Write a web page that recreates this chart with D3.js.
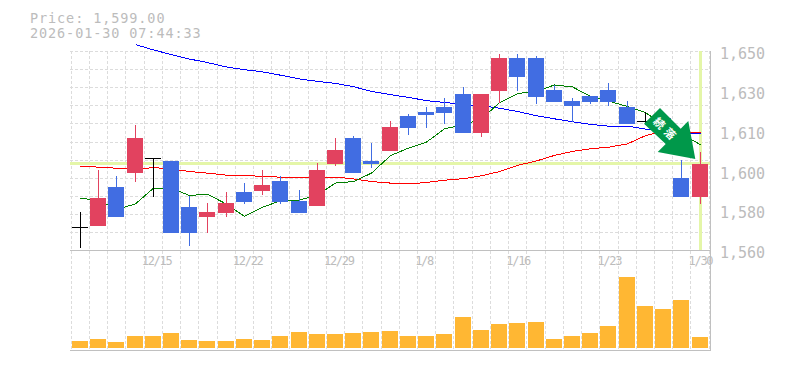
<!DOCTYPE html>
<html>
<head>
<meta charset="utf-8">
<script src="https://cdn.jsdelivr.net/npm/d3@7"></script>
<style>
  html, body { margin: 0; background: #fff; }
  svg { display: block; }
  text { font-family: "DejaVu Sans Mono", monospace; fill: #bcbcbc; }
</style>
</head>
<body>
<svg id="chart" width="785" height="370"></svg>
<script>
var titleLines = ['Price: 1,599.00', '2026-01-30 07:44:33']
var signalLabel = '続落'

var opens  = [1570.4,1570.8,1588.5,1594.8,1601.6,1600.2,1579.4,1574.9,1576.7,1586.2,1586.7,1591.2,1582.2,1579.9,1598.9,1610.6,1600.2,1604.8,1620.6,1622.4,1624.7,1630.6,1612.9,1631.9,1646.8,1646.8,1632.4,1627.4,1629.6,1632.4,1624.7,1618.3,1619.7,1592.6,1584]
var highs  = [1577.2,1596.2,1593.5,1616.5,1601.6,1600.2,1584.4,1581.3,1586.2,1590.3,1596.2,1593.5,1587.1,1599.3,1610.6,1611.6,1608.4,1618.3,1621.5,1624.7,1628.7,1633.7,1630.6,1648.6,1648.6,1647.7,1634.6,1628.7,1629.6,1635.5,1627.4,1622.4,1619.7,1600.7,1604.3]
var lows   = [1560.9,1570.8,1574.9,1590.7,1584,1567.7,1561.8,1567.7,1574.9,1580.8,1584.9,1580.8,1576.7,1579.9,1598,1594.8,1597.1,1604.8,1612,1615.2,1617,1612.9,1611.1,1626.5,1631.9,1626,1626.9,1617.9,1626,1625.1,1617,1616.5,1613.4,1584,1580.8]
var closes = [1570.4,1583.5,1574.9,1610.6,1601.6,1567.7,1567.7,1577.2,1581.3,1581.7,1589.4,1581.7,1576.7,1596.2,1605.2,1594.8,1598.9,1615.6,1615.2,1621.1,1622,1612.9,1630.6,1646.8,1638.2,1629.2,1626.9,1625.1,1626.9,1626.9,1617,1618.3,1613.4,1584,1599]
var volumes = [7,9,6,12,12,15,8,7,7,9,8,12,16,14,14,15,16,17,12,12,14,31,18,24,25,26,9,12,15,22,71,42,39,48,11]

var maShort = [1583.4,1582.4,1578.3,1580.8,1587.9,1587.9,1584.6,1585.2,1580.7,1575.2,1579.3,1582.2,1582.5,1584.9,1590.2,1590.9,1594.7,1602.6,1606,1608.7,1614.7,1616.5,1619.2,1626.5,1630.6,1631.6,1634.5,1633.6,1629.3,1627.2,1624.8,1622,1616.5,1612.5,1607.5]
var maMid = [1597.9,1597.4,1596.9,1596.5,1597.2,1596.6,1595.4,1594.7,1593.8,1593.8,1593.1,1592.9,1592.9,1592.9,1592.9,1592.1,1590.9,1590.2,1589.8,1590.5,1591.5,1592.2,1593.5,1595.4,1598.2,1600.2,1602.7,1604.5,1605.7,1606.4,1607.9,1611.6,1613.8,1613.4,1612.9]
var maLong = [null,null,null,1652.7,1650.3,1648.2,1646.2,1644.6,1642.6,1641.4,1640.4,1638.9,1637.2,1636.1,1635.2,1633.7,1631.6,1630.1,1628.9,1627.4,1626.6,1625.7,1625.1,1624,1622.5,1620.6,1619.2,1617.9,1616.7,1615.9,1615.9,1614.6,1613.8,1612.9,1612.5]

// axis labels get rounded to tens, the ticks themselves are every 18
var priceTicks = [1650,1632,1614,1596,1578,1560]
var dateLabels = {4: '12/15', 9: '12/22', 14: '12/29', 19: '1/8', 24: '1/16', 29: '1/23', 34: '1/30'}
var lastPrice = 1599

var red = '#e2425f', blue = '#416de2', grid = '#dcdcdc', frame = '#c0c0c0', hilite = '#e4f6a8'

var svg = d3.select('#chart')
var c = {left: 70.7, right: 708.7, top: 50.6, bottom: 250, volTop: 277, volBottom: 348, frameRight: 710, frameBottom: 350}

var idx = d3.range(opens.length)
var x = d3.scaleBand().domain(idx).range([c.left, c.right]).paddingInner(0)
var y = d3.scaleLinear().domain([1560, 1650]).range([c.bottom, c.top])
var yVol = d3.scaleLinear().domain([0, d3.max(volumes)]).range([c.volBottom, c.volTop])
var cx = i => Math.round(x(i) + x.bandwidth()/2) + .5
var py = v => Math.round(y(v))

// grid
var gridG = svg.append('g').attr('stroke', grid).attr('stroke-dasharray', '3 2').attr('shape-rendering', 'crispEdges')
gridG.selectAll('line.v').data(idx.concat(35)).join('line').attr('class', 'v')
  .attr('x1', i => Math.round(c.left + i*x.bandwidth()) + .5)
  .attr('x2', i => Math.round(c.left + i*x.bandwidth()) + .5)
  .attr('y1', 51).attr('y2', c.frameBottom)
gridG.selectAll('line.h').data(d3.range(11)).join('line').attr('class', 'h')
  .attr('x1', 70).attr('x2', c.frameRight)
  .attr('y1', i => Math.round(51 + i*18.1) + .5)
  .attr('y2', i => Math.round(51 + i*18.1) + .5)

// frame
var frameG = svg.append('g').attr('stroke', frame).attr('shape-rendering', 'crispEdges')
frameG.append('line').attr('x1', 70).attr('x2', 710.5).attr('y1', 250.5).attr('y2', 250.5)
frameG.append('line').attr('x1', 70).attr('x2', 710.5).attr('y1', 350.5).attr('y2', 350.5)
frameG.append('line').attr('x1', 710.5).attr('x2', 710.5).attr('y1', 51).attr('y2', 351)

// current price / date highlight
svg.append('rect').attr('x', 70).attr('width', 640).attr('y', py(lastPrice) - 2).attr('height', 3).attr('fill', hilite)
svg.append('rect').attr('x', cx(34) - 1.5).attr('width', 3).attr('y', 51).attr('height', 199).attr('fill', hilite)

// moving averages
var line = d3.line().defined(d => d != null).x((d, i) => cx(i)).y(d => y(d))
;[[maLong, '#0000ff'], [maMid, '#ff0000'], [maShort, '#007f00']].forEach(([vals, col]) => {
  svg.append('path').datum(vals).attr('d', line)
    .attr('fill', 'none').attr('stroke', col).attr('stroke-width', 1)
    .attr('shape-rendering', 'crispEdges')
})

// candles
var colorOf = i => closes[i] > opens[i] ? red : closes[i] < opens[i] ? blue : '#000'
var candles = svg.append('g').attr('shape-rendering', 'crispEdges')
  .selectAll('g').data(idx).join('g')
candles.append('line')
  .attr('x1', cx).attr('x2', cx)
  .attr('y1', i => py(highs[i])).attr('y2', i => py(lows[i]))
  .attr('stroke', colorOf)
candles.append('rect')
  .attr('x', i => cx(i) - 8.5).attr('width', 16)
  .attr('y', i => py(Math.max(opens[i], closes[i])))
  .attr('height', i => Math.max(1, py(Math.min(opens[i], closes[i])) - py(Math.max(opens[i], closes[i]))))
  .attr('fill', colorOf)

// volume
svg.append('g').attr('shape-rendering', 'crispEdges')
  .selectAll('rect').data(idx).join('rect')
  .attr('x', i => cx(i) - 8.5).attr('width', 16)
  .attr('y', i => yVol(volumes[i]))
  .attr('height', i => c.volBottom - yVol(volumes[i]))
  .attr('fill', '#ffb733')

// signal arrow
var arrow = svg.append('g')
arrow.append('path')
  .attr('d', 'M660,108 L680.7,128.7 L688.3,121 L695.3,159 L657.7,152 L665.7,144 L644,123.7 Z')
  .attr('fill', '#00984a')
arrow.append('text').text(signalLabel)
  .attr('transform', 'translate(666,130) rotate(45)')
  .attr('text-anchor', 'middle').attr('dy', '.36em')
  .style('font-family', '"Noto Sans CJK JP"').style('font-weight', 700).style('font-size', '11px')
  .style('letter-spacing', '4px')
  .style('fill', '#fff')

// axes
var yAxis = svg.append('g').attr('transform', 'translate(720,3)')
  .call(d3.axisRight(y).tickValues(priceTicks).tickSize(0).tickPadding(0)
    .tickFormat(d => d3.format(',')(Math.round(d/10)*10)))
yAxis.select('.domain').remove()
yAxis.selectAll('text').style('font-size', '15px').style('font-family', '"DejaVu Sans Mono"').attr('fill', null)

var xAxis = svg.append('g').attr('transform', 'translate(0,256)')
  .call(d3.axisBottom(x).tickValues(Object.keys(dateLabels).map(Number)).tickSize(0).tickPadding(0)
    .tickFormat(d => dateLabels[d]))
xAxis.select('.domain').remove()
xAxis.selectAll('text').attr('text-anchor', 'start').attr('dx', -11)
  .style('font-size', '12px').style('letter-spacing', '-1.3px').style('font-family', '"DejaVu Sans Mono"').attr('fill', null)

// title
svg.append('g').selectAll('text').data(titleLines).join('text')
  .attr('x', 30).attr('y', (d, i) => 22.5 + i*15.5)
  .style('font-size', '13.5px').style('letter-spacing', '.9px')
  .text(d => d)
</script>
</body>
</html>
